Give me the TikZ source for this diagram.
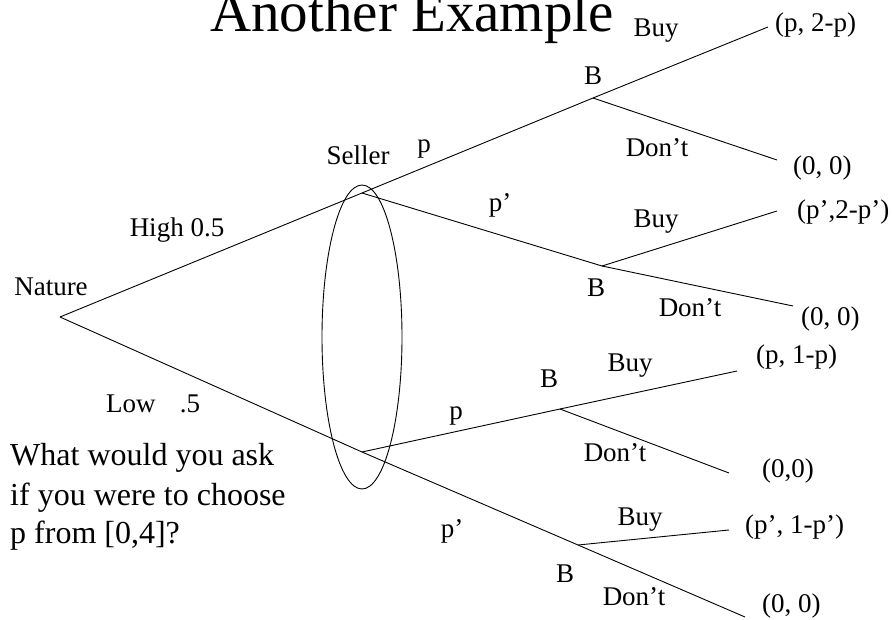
\documentclass[tikz,border=0pt]{standalone}
\usepackage{fontspec}
\setmainfont{Liberation Serif}
\begin{document}
\begin{tikzpicture}[x=1pt,y=-1pt,
  edge/.style={line width=0.9pt},
  lbl/.style={inner sep=0pt,anchor=base,font=\fontsize{27}{32}\selectfont},
  pay/.style={inner sep=0pt,anchor=base west,font=\fontsize{27}{32}\selectfont},
  qline/.style={inner sep=0pt,anchor=base west,font=\fontsize{32}{39}\selectfont}]
\useasboundingbox (0,0) rectangle (892,620);
% tree points
\coordinate (nat) at (60,317);
\coordinate (s1) at (362,193);
\coordinate (s2) at (362,452);
\coordinate (b1) at (593,98);
\coordinate (b2) at (602,266);
\coordinate (b3) at (560,409);
\coordinate (b4) at (578,545);
\coordinate (e1) at (768,27);
\coordinate (e2) at (777,160);
\coordinate (e3) at (777,211);
\coordinate (e4) at (793,306);
\coordinate (e5) at (737,371);
\coordinate (e6) at (729,473);
\coordinate (e7) at (729,530);
\coordinate (e8) at (745,617);
% connectors
\draw[edge] (nat) -- (s1) -- (b1);
\draw[edge] (nat) -- (s2) -- (b4) -- (e8);
\draw[edge] (s1) -- (b2);
\draw[edge] (s2) -- (b3);
\draw[edge] (b1) -- (e1);
\draw[edge] (b1) -- (e2);
\draw[edge] (b2) -- (e3);
\draw[edge] (b2) -- (e4);
\draw[edge] (b3) -- (e5);
\draw[edge] (b3) -- (e6);
\draw[edge] (b4) -- (e7);
% information set
\draw[edge] (362,337) ellipse [x radius=40, y radius=152];
% title
\node[inner sep=0pt,anchor=base west,font=\fontsize{57}{60}\selectfont] (title) at (210,32) {Another Example};
% labels
\node[lbl] (lnat) at (51,296) {Nature};
\node[lbl] (lhigh) at (177,237) {High 0.5};
\node[lbl,anchor=base west] (llow) at (106,413) {Low\hspace{0.9em}.5};
\node[lbl] (lsel) at (358,165) {Seller};
\node[lbl] (lp1) at (424,153) {p};
\node[lbl] (lp2) at (500,212) {p’};
\node[lbl] (lp3) at (456,420) {p};
\node[lbl] (lp4) at (452,537) {p’};
\node[lbl] (lb1) at (593,85) {B};
\node[lbl] (lb2) at (596,297) {B};
\node[lbl] (lb3) at (549,388) {B};
\node[lbl] (lb4) at (565,582) {B};
\node[lbl] (lbuy1) at (656,37) {Buy};
\node[lbl] (ldont1) at (657,157) {Don’t};
\node[lbl] (lbuy2) at (656,228) {Buy};
\node[lbl] (ldont2) at (690,317) {Don’t};
\node[lbl] (lbuy3) at (630,372) {Buy};
\node[lbl] (ldont3) at (615,461) {Don’t};
\node[lbl] (lbuy4) at (640,525) {Buy};
\node[lbl] (ldont4) at (634,605) {Don’t};
% payoffs
\node[pay] (p1) at (775,32) {(p, 2-p)};
\node[pay] (p2) at (793,175) {(0, 0)};
\node[pay] (p3) at (797,219) {(p’,2-p’)};
\node[pay] (p4) at (801,326) {(0, 0)};
\node[pay] (p5) at (756,363) {(p, 1-p)};
\node[pay] (p6) at (762,477) {(0,0)};
\node[pay] (p7) at (745,533) {(p’, 1-p’)};
\node[pay] (p8) at (762,612) {(0, 0)};
% question
\node[qline] (q1) at (10,465) {What would you ask};
\node[qline] (q2) at (10,505) {if you were to choose};
\node[qline] (q3) at (10,543) {p from [0,4]?};
\end{tikzpicture}
\end{document}
